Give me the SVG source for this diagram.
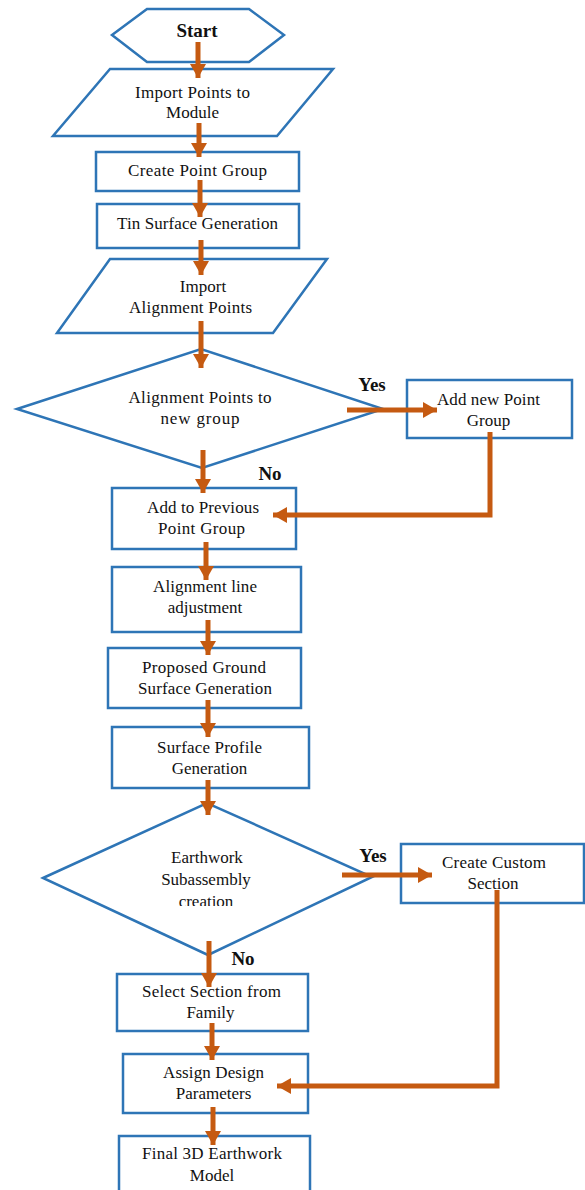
<svg xmlns="http://www.w3.org/2000/svg" width="585" height="1190" viewBox="0 0 585 1190">
<style>
.s{fill:#fff;stroke:#2E75B6;stroke-width:2.5}
.t{font-family:"Liberation Serif","Times New Roman",serif;font-size:17px;fill:#111;text-anchor:middle}
.b{font-family:"Liberation Serif","Times New Roman",serif;font-size:19px;font-weight:bold;fill:#111;text-anchor:middle}
.c{fill:none;stroke:#C55A11;stroke-width:5}
</style>
<defs>
<marker id="ah" markerUnits="userSpaceOnUse" markerWidth="16" markerHeight="18" refX="14" refY="8" orient="auto">
<path d="M0,0 L14,8 L0,16 Z" fill="#C55A11"/>
</marker>
<clipPath id="clipc"><rect x="0" y="880" width="585" height="26"/></clipPath>
</defs>
<rect width="585" height="1190" fill="#fff"/>
<g id="start"><polygon class="s" points="112,35 147,9 249,9 284,35 249,62 147,62"/><text class="b" x="197" y="37">Start</text></g>
<g id="import-points"><polygon class="s" points="110,69 333,69 277,136 53,136"/><text class="t" x="192.5" y="98" textLength="115" lengthAdjust="spacing">Import Points to</text><text class="t" x="192.5" y="118">Module</text></g>
<g id="create-point-group"><rect class="s" x="96" y="152" width="203" height="39"/><text class="t" x="197.5" y="176" textLength="139" lengthAdjust="spacing">Create Point Group</text></g>
<g id="tin-surface"><rect class="s" x="97" y="204" width="202" height="44"/><text class="t" x="197.5" y="229" textLength="161" lengthAdjust="spacing">Tin Surface Generation</text></g>
<g id="import-alignment"><polygon class="s" points="110,259 327,259 273,333 57,333"/><text class="t" x="203" y="292">Import</text><text class="t" x="190.5" y="313" textLength="123" lengthAdjust="spacing">Alignment Points</text></g>
<g id="decision-1"><polygon class="s" points="17,409 201,349 383,409 202,468"/><text class="t" x="200" y="403" textLength="143" lengthAdjust="spacing">Alignment Points to</text><text class="t" x="200" y="424" textLength="79" lengthAdjust="spacing">new group</text></g>
<g id="add-new-group"><rect class="s" x="407" y="380" width="165" height="58"/><text class="t" x="488.5" y="405" textLength="103" lengthAdjust="spacing">Add new Point</text><text class="t" x="488.5" y="426">Group</text></g>
<g id="add-previous"><rect class="s" x="112" y="488" width="184" height="61"/><text class="t" x="203" y="513" textLength="112" lengthAdjust="spacing">Add to Previous</text><text class="t" x="201.5" y="534" textLength="87" lengthAdjust="spacing">Point Group</text></g>
<g id="alignment-adjust"><rect class="s" x="112" y="567" width="189" height="65"/><text class="t" x="205" y="592" textLength="104" lengthAdjust="spacing">Alignment line</text><text class="t" x="205" y="613">adjustment</text></g>
<g id="proposed-ground"><rect class="s" x="108" y="648" width="193" height="60"/><text class="t" x="204" y="673" textLength="124" lengthAdjust="spacing">Proposed Ground</text><text class="t" x="205" y="694" textLength="134" lengthAdjust="spacing">Surface Generation</text></g>
<g id="surface-profile"><rect class="s" x="112" y="727" width="197" height="61"/><text class="t" x="209.5" y="753" textLength="105" lengthAdjust="spacing">Surface Profile</text><text class="t" x="209.5" y="774">Generation</text></g>
<g id="decision-2"><polygon class="s" points="43,878 207,803 372,877 208,955"/><text class="t" x="207" y="863">Earthwork</text><text class="t" x="206" y="885">Subassembly</text><text class="t" x="206" y="907" clip-path="url(#clipc)">creation</text></g>
<g id="create-custom"><rect class="s" x="401" y="844" width="183" height="59"/><text class="t" x="494" y="868" textLength="104" lengthAdjust="spacing">Create Custom</text><text class="t" x="493" y="889">Section</text></g>
<g id="select-section"><rect class="s" x="117" y="974" width="191" height="57"/><text class="t" x="211.5" y="997" textLength="139" lengthAdjust="spacing">Select Section from</text><text class="t" x="210.5" y="1018">Family</text></g>
<g id="assign-design"><rect class="s" x="123" y="1054" width="185" height="59"/><text class="t" x="213.5" y="1078" textLength="101" lengthAdjust="spacing">Assign Design</text><text class="t" x="213.5" y="1099">Parameters</text></g>
<g id="final-model"><rect class="s" x="119" y="1136" width="191" height="60"/><text class="t" x="212" y="1159" textLength="140" lengthAdjust="spacing">Final 3D Earthwork</text><text class="t" x="212" y="1181">Model</text></g>
<g id="connectors">
<line class="c" x1="198" y1="42" x2="198" y2="78" marker-end="url(#ah)"/>
<line class="c" x1="199" y1="123" x2="199" y2="157" marker-end="url(#ah)"/>
<line class="c" x1="200" y1="180" x2="200" y2="217" marker-end="url(#ah)"/>
<line class="c" x1="201" y1="240" x2="201" y2="275" marker-end="url(#ah)"/>
<line class="c" x1="201" y1="321" x2="201" y2="368" marker-end="url(#ah)"/>
<line class="c" x1="203" y1="450" x2="203" y2="493" marker-end="url(#ah)"/>
<line class="c" x1="206" y1="542" x2="206" y2="580" marker-end="url(#ah)"/>
<line class="c" x1="208" y1="620" x2="208" y2="655" marker-end="url(#ah)"/>
<line class="c" x1="208" y1="700" x2="208" y2="737" marker-end="url(#ah)"/>
<line class="c" x1="208" y1="780" x2="208" y2="815" marker-end="url(#ah)"/>
<line class="c" x1="209" y1="941" x2="209" y2="987" marker-end="url(#ah)"/>
<line class="c" x1="212" y1="1023" x2="212" y2="1060" marker-end="url(#ah)"/>
<line class="c" x1="213" y1="1107" x2="213" y2="1145" marker-end="url(#ah)"/>
<line class="c" x1="347" y1="410" x2="437" y2="410" marker-end="url(#ah)"/>
<line class="c" x1="342" y1="875" x2="432" y2="875" marker-end="url(#ah)"/>
<polyline class="c" points="490,432 490,515 273,515" marker-end="url(#ah)"/>
<polyline class="c" points="497,890 497,1086 277,1086" marker-end="url(#ah)"/>
</g>
<g id="labels">
<text class="b" x="372" y="391">Yes</text>
<text class="b" x="270" y="480">No</text>
<text class="b" x="373" y="862">Yes</text>
<text class="b" x="243" y="965">No</text>
</g>
</svg>
